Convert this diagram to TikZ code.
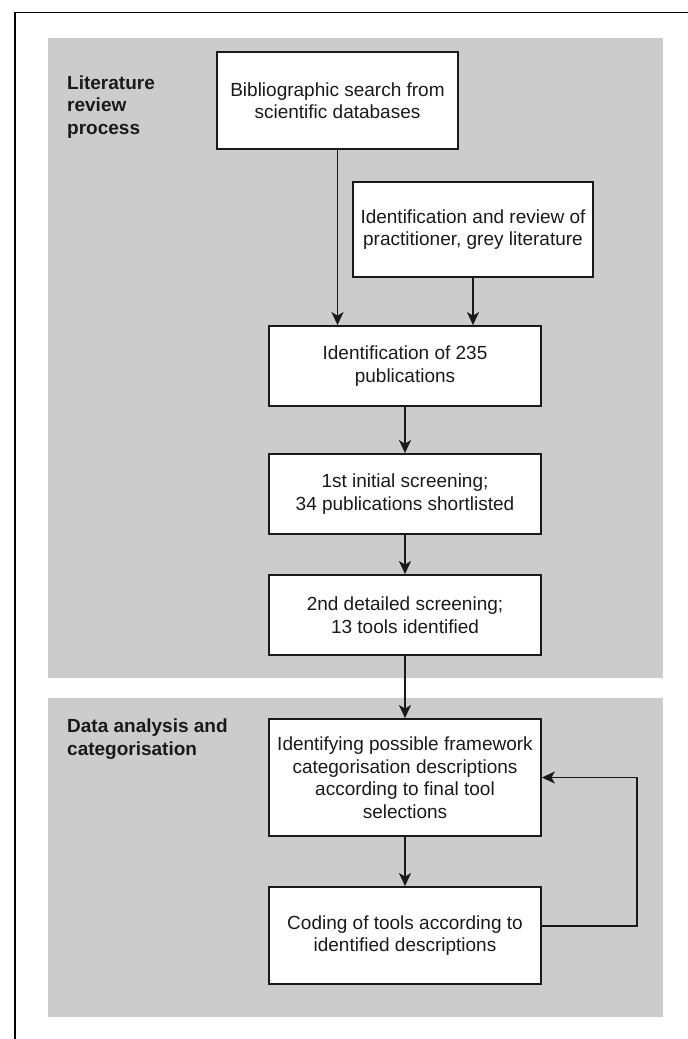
\documentclass[tikz,border=0pt]{standalone}
\usepackage{fontspec}
\setmainfont{Liberation Sans}
\usetikzlibrary{arrows.meta}
\definecolor{panel}{RGB}{204,204,204}
\definecolor{ink}{RGB}{26,26,26}
\begin{document}
\begin{tikzpicture}[x=1pt,y=-1pt,
  every node/.style={font=\fontsize{19}{22.5}\selectfont, text=ink},
  box/.style={draw=ink, line width=1.8pt, fill=white, inner sep=0pt, align=center, minimum width=272pt},
  arr/.style={draw=ink, line width=1.7pt, -{Stealth[length=13pt,width=12pt,inset=3.5pt]}},
  panelbox/.style={fill=panel, draw=none},
  frameline/.style={draw=black, line width=1.7pt},
  lbl/.style={font=\bfseries\fontsize{19}{22.5}\selectfont, align=left, anchor=north west, inner sep=0pt}]

\useasboundingbox (0,0) rectangle (688,1039);
\fill[white] (0,0) rectangle (688,1039);
\draw[frameline] (15,1039) -- (15,12.5) -- (688,12.5);
\path[panelbox] (48,38) rectangle (663,678);
\path[panelbox] (48,698) rectangle (663,1017);

\node[lbl] (l1) at (67,75.5) {Literature\\review\\process};
\node[lbl] (l2) at (67,719) {Data analysis and\\categorisation};

\node[box, minimum width=241pt, minimum height=97pt] (bib) at (337.5,100.5) {Bibliographic search from\\scientific databases};
\node[box, minimum width=240pt, minimum height=95pt] (grey) at (473,229.5) {Identification and review of\\practitioner, grey literature};
\node[box, minimum height=80pt] (pubs) at (405,366) {Identification of 235\\publications};
\node[box, minimum height=80pt] (scr1) at (405,494) {1st initial screening;\\34 publications shortlisted};
\node[box, minimum height=80pt] (scr2) at (405,615) {2nd detailed screening;\\13 tools identified};
\node[box, minimum height=117pt] (ident) at (405,777.5) {Identifying possible framework\\categorisation descriptions\\according to final tool\\selections};
\node[box, minimum height=97pt] (code) at (405,935.5) {Coding of tools according to\\identified descriptions};

\draw[arr] (bib.south) -- (bib.south |- pubs.north);
\draw[arr] (grey.south) -- (grey.south |- pubs.north);
\draw[arr] (pubs) -- (scr1);
\draw[arr] (scr1) -- (scr2);
\draw[arr] (scr2) -- (ident);
\draw[arr] (ident) -- (code);
\coordinate (fb) at (637,926);
\draw[arr] (code.east |- fb) -- (fb) |- (ident.east);
\end{tikzpicture}
\end{document}
